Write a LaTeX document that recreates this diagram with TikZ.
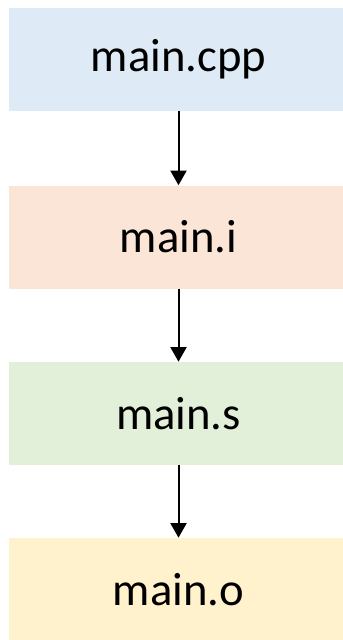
\documentclass[tikz,border=0pt]{standalone}
\usepackage{fontspec}
\setmainfont{Carlito}
\usetikzlibrary{arrows.meta}
\definecolor{cblue}{HTML}{DEEBF7}
\definecolor{corange}{HTML}{FBE5D6}
\definecolor{cgreen}{HTML}{E2F0D9}
\definecolor{cyellow}{HTML}{FFF2CC}
\begin{document}
\begin{tikzpicture}[x=0.75pt,y=-0.75pt,
  box/.style={draw=none,minimum width=254.25pt,minimum height=77.25pt,inner sep=0pt,font=\fontsize{35}{42}\selectfont},
  flow/.style={line width=1.5pt,-{Triangle[width=12pt,length=11pt]}}]
\useasboundingbox (0,0) rectangle (343,640);
\node[box,fill=cblue] (a) at (178.5,59.5) {main.cpp};
\node[box,fill=corange] (b) at (178.5,237) {main.i};
\node[box,fill=cgreen] (c) at (178.5,413.5) {main.s};
\node[box,fill=cyellow] (d) at (178.5,589.5) {main.o};
\draw[flow] (a) -- (b);
\draw[flow] (b) -- (c);
\draw[flow] (c) -- (d);
\end{tikzpicture}
\end{document}
